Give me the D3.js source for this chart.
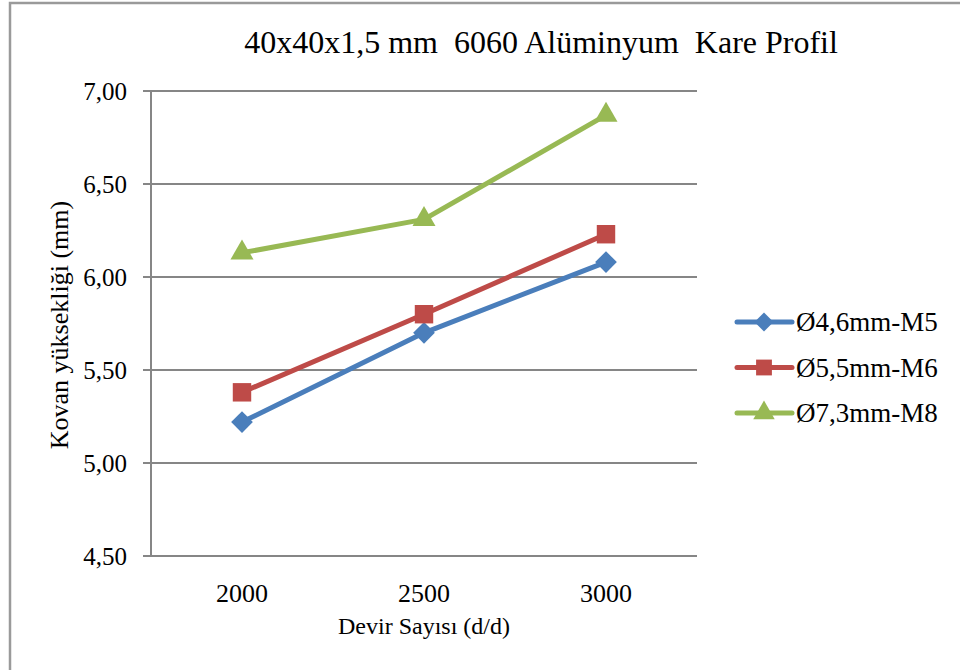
<!DOCTYPE html>
<html>
<head>
<meta charset="utf-8">
<script src="https://cdn.jsdelivr.net/npm/d3@7"></script>
<style>
  body { margin: 0; background: #fff; }
  svg { display: block; font-family: "Liberation Serif", "Times New Roman", serif; }
</style>
</head>
<body>
<svg id="chart" width="960" height="670"></svg>
<script>
const categories = ['2000', '2500', '3000'];
const seriesNames = ['Ø4,6mm-M5', 'Ø5,5mm-M6', 'Ø7,3mm-M8'];
const m5Values = [5.22, 5.70, 6.08];
const m6Values = [5.38, 5.80, 6.23];
const m8Values = [6.13, 6.31, 6.87];
const yTicks = [4.5, 5.0, 5.5, 6.0, 6.5, 7.0];

const seriesColors = ['#4a7ebb', '#be4b48', '#98b954'];
const seriesSymbols = [d3.symbolDiamond2, d3.symbolSquare, d3.symbolTriangle];
const series = [m5Values, m6Values, m8Values].map((values, i) => ({
  name: seriesNames[i], values, color: seriesColors[i], symbol: seriesSymbols[i]
}));

const svg = d3.select('#chart');
const plot = { left: 151, right: 697, top: 91, bottom: 556 };

const x = d3.scaleBand().domain(categories).range([plot.left, plot.right]);
const y = d3.scaleLinear().domain([4.5, 7]).range([plot.bottom, plot.top]);
const fmt = v => d3.format('.2f')(v).replace('.', ',');

// outer frame (cut off at right and bottom)
svg.append('rect')
  .attr('x', 10).attr('y', 3)
  .attr('width', 980).attr('height', 700)
  .attr('fill', 'none')
  .attr('stroke', '#9a9a9a')
  .attr('stroke-width', 2.5);

// gridlines
svg.append('g')
  .selectAll('line')
  .data(yTicks)
  .enter()
  .append('line')
  .attr('x1', plot.left - 8)
  .attr('x2', plot.right)
  .attr('y1', d => y(d))
  .attr('y2', d => y(d))
  .attr('stroke', '#868686')
  .attr('stroke-width', 2);

// y axis line
svg.append('line')
  .attr('x1', plot.left).attr('x2', plot.left)
  .attr('y1', plot.top).attr('y2', plot.bottom)
  .attr('stroke', '#868686')
  .attr('stroke-width', 2);

// y tick labels
svg.append('g')
  .selectAll('text')
  .data(yTicks)
  .enter()
  .append('text')
  .attr('x', 127)
  .attr('y', d => y(d))
  .attr('dy', '0.35em')
  .attr('text-anchor', 'end')
  .attr('font-size', 25)
  .text(d => fmt(d));

// x tick labels
svg.append('g')
  .selectAll('text')
  .data(categories)
  .enter()
  .append('text')
  .attr('x', d => x(d) + x.bandwidth() / 2)
  .attr('y', 602)
  .attr('text-anchor', 'middle')
  .attr('font-size', 26)
  .text(d => d);

// title and axis titles
svg.append('text')
  .attr('x', 541).attr('y', 53)
  .attr('text-anchor', 'middle')
  .attr('font-size', 32)
  .attr('xml:space', 'preserve')
  .text('40x40x1,5 mm  6060 Alüminyum  Kare Profil');

svg.append('text')
  .attr('x', 424).attr('y', 634)
  .attr('text-anchor', 'middle')
  .attr('font-size', 24)
  .text('Devir Sayısı (d/d)');

svg.append('text')
  .attr('transform', 'translate(68,325) rotate(-90)')
  .attr('text-anchor', 'middle')
  .attr('font-size', 26)
  .text('Kovan yüksekliği (mm)');

// lines and markers
const line = d3.line()
  .x((d, i) => x(categories[i]) + x.bandwidth() / 2)
  .y(d => y(d));

const groups = svg.append('g')
  .selectAll('g')
  .data(series)
  .enter()
  .append('g');

groups.append('path')
  .attr('d', s => line(s.values))
  .attr('fill', 'none')
  .attr('stroke', s => s.color)
  .attr('stroke-width', 5)
  .attr('stroke-linejoin', 'round')
  .attr('stroke-linecap', 'round');

groups.each(function(s) {
  d3.select(this).selectAll('path.marker')
    .data(s.values)
    .enter()
    .append('path')
    .attr('class', 'marker')
    .attr('transform', (d, i) => `translate(${x(categories[i]) + x.bandwidth() / 2},${y(d)})`)
    .attr('d', d3.symbol().type(s.symbol).size(s.symbol === d3.symbolTriangle ? 230 : s.symbol === d3.symbolSquare ? 340 : 300)())
    .attr('fill', s.color);
});

// legend
const legend = svg.append('g')
  .selectAll('g')
  .data(series)
  .enter()
  .append('g')
  .attr('transform', (s, i) => `translate(737,${322 + i * 45.5})`);

legend.append('line')
  .attr('x1', 0).attr('x2', 55)
  .attr('stroke', s => s.color)
  .attr('stroke-width', 5)
  .attr('stroke-linecap', 'round');

legend.append('path')
  .attr('transform', 'translate(27,0)')
  .attr('d', s => d3.symbol().type(s.symbol).size(s.symbol === d3.symbolTriangle ? 200 : s.symbol === d3.symbolSquare ? 250 : 230)())
  .attr('fill', s => s.color);

legend.append('text')
  .attr('x', 59)
  .attr('dy', '0.35em')
  .attr('font-size', 27)
  .text(s => s.name);
</script>
</body>
</html>
